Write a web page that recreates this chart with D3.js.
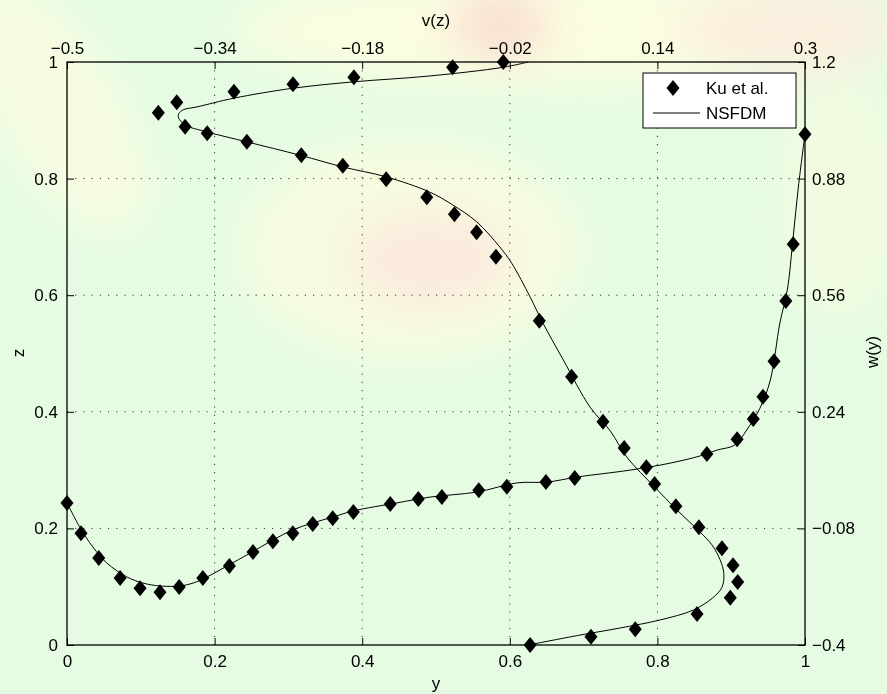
<!DOCTYPE html>
<html>
<head>
<meta charset="utf-8">
<script src="https://cdn.jsdelivr.net/npm/d3@7"></script>
<style>
html,body{margin:0;padding:0;background:#e5fce3;}
svg{display:block;}
text{font-family:"Liberation Sans",Arial,Helvetica,sans-serif;font-size:17px;fill:#000;}
</style>
</head>
<body>
<svg id="chart" width="887" height="694"></svg>
<script>
// ---- data ----
// Ku et al. (diamonds): v(z) profile  -> [v, z]
const kuV = [-0.027,-0.082,-0.189,-0.255,-0.319,-0.381,-0.401,-0.372,-0.348,-0.305,-0.246,-0.201,-0.154,-0.110,-0.080,-0.056,-0.035,0.012,0.047,0.081,0.104,0.137,0.160,0.185,0.210,0.222,0.227,0.219,0.183,0.116,0.068,0.002];
const kuZ = [1.000,0.991,0.974,0.962,0.949,0.931,0.913,0.889,0.878,0.863,0.840,0.822,0.799,0.768,0.739,0.708,0.666,0.556,0.460,0.383,0.338,0.276,0.238,0.202,0.166,0.137,0.108,0.081,0.053,0.027,0.014,0.000];
// Ku et al. (diamonds): w(y) profile -> [y, w]
const kuY = [0,0.019,0.043,0.072,0.099,0.126,0.152,0.184,0.220,0.252,0.279,0.306,0.333,0.360,0.388,0.438,0.476,0.508,0.558,0.596,0.649,0.688,0.785,0.867,0.908,0.930,0.943,0.958,0.974,0.984,1.000];
const kuW = [-0.010,-0.093,-0.161,-0.216,-0.244,-0.255,-0.241,-0.216,-0.183,-0.145,-0.115,-0.093,-0.068,-0.052,-0.035,-0.013,0.001,0.006,0.025,0.034,0.047,0.058,0.088,0.124,0.165,0.220,0.281,0.379,0.544,0.700,1.002];
// NSFDM (solid line): v(z)
const nsV = [0.000,-0.027,-0.107,-0.189,-0.255,-0.319,-0.359,-0.374,-0.379,-0.379,-0.372,-0.348,-0.305,-0.247,-0.201,-0.154,-0.107,-0.082,-0.056,-0.031,-0.018,0.002,0.016,0.038,0.067,0.089,0.107,0.137,0.161,0.186,0.199,0.208,0.212,0.210,0.200,0.179,0.143,0.099,0.056,0.000];
const nsZ = [1.000,0.991,0.976,0.966,0.955,0.938,0.923,0.918,0.911,0.904,0.892,0.880,0.863,0.840,0.820,0.803,0.777,0.755,0.726,0.683,0.655,0.597,0.552,0.489,0.408,0.367,0.322,0.271,0.232,0.194,0.172,0.146,0.123,0.099,0.081,0.060,0.043,0.029,0.017,0.000];
// NSFDM (solid line): w(y)
const nsY = [0,0.018,0.035,0.054,0.081,0.103,0.126,0.153,0.171,0.190,0.217,0.248,0.279,0.306,0.333,0.360,0.388,0.447,0.492,0.556,0.610,0.650,0.691,0.763,0.817,0.858,0.881,0.905,0.921,0.939,0.953,0.966,0.976,0.984,0.991,1.000];
const nsW = [-0.010,-0.079,-0.131,-0.175,-0.213,-0.230,-0.238,-0.238,-0.230,-0.213,-0.183,-0.148,-0.112,-0.084,-0.065,-0.049,-0.032,-0.010,0.006,0.020,0.045,0.047,0.061,0.080,0.099,0.119,0.135,0.149,0.190,0.250,0.327,0.484,0.574,0.720,0.857,1.002];
// tick labels
const ticksBottom = [0,0.2,0.4,0.6,0.8,1];
const ticksLeft = [0,0.2,0.4,0.6,0.8,1];
const ticksTop = [-0.5,-0.34,-0.18,-0.02,0.14,0.3];
const ticksRight = [-0.4,-0.08,0.24,0.56,0.88,1.2];
const legendLabels = ["Ku et al.","NSFDM"];

// ---- layout ----
const L = 67, R = 805, T = 62, B = 645;
const svg = d3.select("#chart");

// background (faint coloured image behind)
const defs = svg.append("defs");
defs.append("filter").attr("id","blur").append("feGaussianBlur").attr("stdDeviation",22);
svg.append("rect").attr("width",887).attr("height",694).attr("fill","#e5fce3");
const bg = svg.append("g").attr("filter","url(#blur)");
bg.append("ellipse").attr("cx",560).attr("cy",30).attr("rx",330).attr("ry",55).attr("fill","#fbfde0");
bg.append("ellipse").attr("cx",790).attr("cy",30).attr("rx",110).attr("ry",45).attr("fill","#fbeedd");
bg.append("ellipse").attr("cx",500).attr("cy",25).attr("rx",50).attr("ry",32).attr("fill","#f9dcd0");
bg.append("ellipse").attr("cx",410).attr("cy",250).attr("rx",170).attr("ry",110).attr("fill","#f7fbe0");
bg.append("ellipse").attr("cx",430).attr("cy",260).attr("rx",80).attr("ry",45).attr("fill","#fbe9dd");
bg.append("ellipse").attr("cx",60).attr("cy",110).attr("rx",60).attr("ry",140).attr("fill","#f8fce2").attr("transform","rotate(-30,60,110)");
bg.append("ellipse").attr("cx",840).attr("cy",200).attr("rx",60).attr("ry",120).attr("fill","#f2fbe0");

// scales
const xB = d3.scaleLinear().domain([0,1]).range([L,R]);
const xT = d3.scaleLinear().domain([-0.5,0.3]).range([L,R]);
const yL = d3.scaleLinear().domain([0,1]).range([B,T]);
const yR = d3.scaleLinear().domain([-0.4,1.2]).range([B,T]);

// grid
const grid = svg.append("g").attr("stroke","#333").attr("stroke-width",1).attr("stroke-dasharray","1.2,7");
ticksBottom.filter(d=>d>0&&d<1).forEach(d=>{
  grid.append("line").attr("x1",xB(d)).attr("x2",xB(d)).attr("y1",T).attr("y2",B);
});
ticksLeft.filter(d=>d>0&&d<1).forEach(d=>{
  grid.append("line").attr("x1",L).attr("x2",R).attr("y1",yL(d)).attr("y2",yL(d));
});

// axes
const fmt = d => d3.format("")(d);
function styleAxis(g){
  g.select(".domain").remove();
  g.selectAll(".tick line").attr("stroke","#000");
  g.selectAll(".tick text").attr("font-family","Liberation Sans, Arial, sans-serif").attr("font-size",17).attr("fill","#000");
}
svg.append("g").attr("transform",`translate(0,${B})`)
  .call(d3.axisBottom(xB).tickValues(ticksBottom).tickFormat(fmt).tickSizeInner(-7).tickSizeOuter(0).tickPadding(10)).call(styleAxis);
svg.append("g").attr("transform",`translate(0,${T})`)
  .call(d3.axisTop(xT).tickValues(ticksTop).tickFormat(fmt).tickSizeInner(-7).tickSizeOuter(0).tickPadding(8)).call(styleAxis);
svg.append("g").attr("transform",`translate(${L},0)`)
  .call(d3.axisLeft(yL).tickValues(ticksLeft).tickFormat(fmt).tickSizeInner(-7).tickSizeOuter(0).tickPadding(9)).call(styleAxis);
svg.append("g").attr("transform",`translate(${R},0)`)
  .call(d3.axisRight(yR).tickValues(ticksRight).tickFormat(fmt).tickSizeInner(-7).tickSizeOuter(0).tickPadding(7)).call(styleAxis);

// box
svg.append("rect").attr("x",L).attr("y",T).attr("width",R-L).attr("height",B-T)
  .attr("fill","none").attr("stroke","#000").attr("stroke-width",1.3);

// axis titles
svg.append("text").attr("x",436).attr("y",26).attr("text-anchor","middle").text("v(z)");
svg.append("text").attr("x",436).attr("y",689).attr("text-anchor","middle").text("y");
svg.append("text").attr("transform","translate(24,353) rotate(-90)").attr("text-anchor","middle").text("z");
svg.append("text").attr("transform","translate(878,352) rotate(-90)").attr("text-anchor","middle").text("w(y)");

// lines
const lineV = d3.line().x(d=>xT(d[0])).y(d=>yL(d[1])).curve(d3.curveCatmullRom.alpha(0.5));
const lineW = d3.line().x(d=>xB(d[0])).y(d=>yR(d[1])).curve(d3.curveCatmullRom.alpha(0.5));
const nsVData = nsV.map((v,i)=>[v,nsZ[i]]);
const nsWData = nsY.map((y,i)=>[y,nsW[i]]);
svg.append("path").datum(nsVData).attr("d",lineV).attr("fill","none").attr("stroke","#000").attr("stroke-width",1);
svg.append("path").datum(nsWData).attr("d",lineW).attr("fill","none").attr("stroke","#000").attr("stroke-width",1);

// diamonds
const diamond = "M0,-8L6.5,0L0,8L-6.5,0Z";
svg.append("g").selectAll("path").data(kuV.map((v,i)=>[v,kuZ[i]])).join("path")
  .attr("d",diamond).attr("transform",d=>`translate(${xT(d[0])},${yL(d[1])})`).attr("fill","#000");
svg.append("g").selectAll("path").data(kuY.map((y,i)=>[y,kuW[i]])).join("path")
  .attr("d",diamond).attr("transform",d=>`translate(${xB(d[0])},${yR(d[1])})`).attr("fill","#000");

// legend
const lg = svg.append("g");
lg.append("rect").attr("x",643).attr("y",73).attr("width",153).attr("height",55)
  .attr("fill","#fff").attr("stroke","#000").attr("stroke-width",1);
lg.append("path").attr("d",diamond).attr("transform","translate(673,88)").attr("fill","#000");
lg.append("text").attr("x",706).attr("y",94).text(legendLabels[0]);
lg.append("line").attr("x1",653).attr("x2",700).attr("y1",113).attr("y2",113).attr("stroke","#000").attr("stroke-width",1);
lg.append("text").attr("x",706).attr("y",119).text(legendLabels[1]);
</script>
</body>
</html>
